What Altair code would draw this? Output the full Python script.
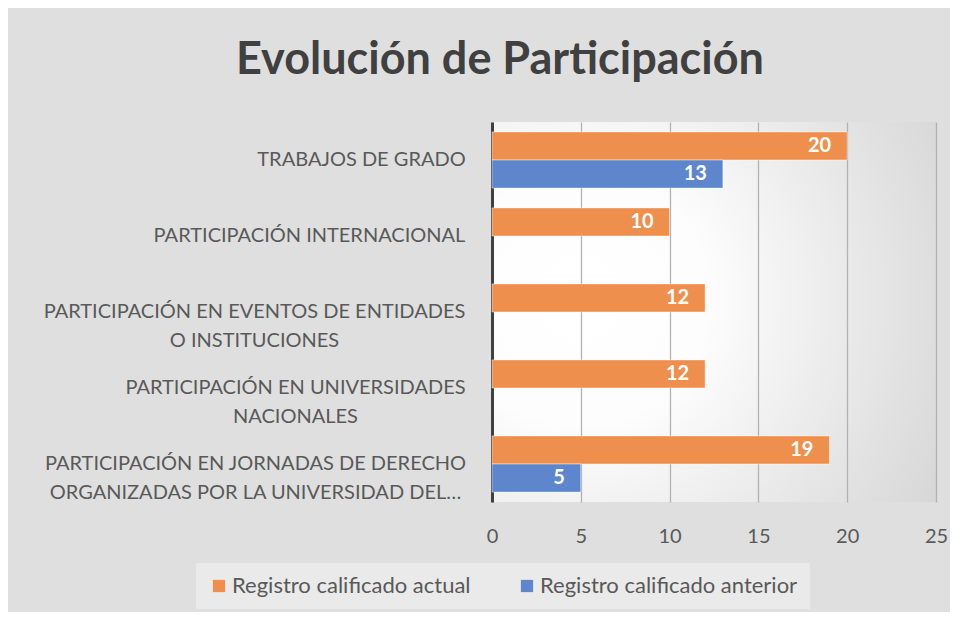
import altair as alt
import pandas as pd

# ---- data ----
categories = [
    "TRABAJOS DE GRADO",
    "PARTICIPACIÓN  INTERNACIONAL",
    "PARTICIPACIÓN EN EVENTOS DE ENTIDADES\nO INSTITUCIONES",
    "PARTICIPACIÓN EN UNIVERSIDADES\nNACIONALES",
    "PARTICIPACIÓN EN JORNADAS DE DERECHO\nORGANIZADAS POR LA UNIVERSIDAD DEL…",
]
series = ["Registro calificado actual", "Registro calificado anterior"]
actual = [20, 10, 12, 12, 19]
anterior = [13, None, None, None, 5]
colors = ["#EE8F4E", "#5D86CD"]
x_ticks = [0, 5, 10, 15, 20, 25]

rows = []
for cat, a, b in zip(categories, actual, anterior):
    if a is not None:
        rows.append({"categoria": cat, "serie": series[0], "valor": a})
    if b is not None:
        rows.append({"categoria": cat, "serie": series[1], "valor": b})
df = pd.DataFrame(rows)

FONT = "Lato"
GREY = "#595959"

# label blocks are right-aligned to the axis, with their lines centred:
# distance from the axis to the centre of each label block (layout only)
label_centre = [
    ("TRABAJOS", 131),
    ("INTERNACIONAL", 183),
    ("EVENTOS", 238),
    ("UNIVERSIDADES\n", 197),
    ("JORNADAS", 237),
]
pad_condition = [
    {"test": f"indexof(datum.value, '{key}') >= 0", "value": v}
    for key, v in label_centre
]
for c in pad_condition:
    c["test"] = c["test"].replace("\n", "\\n")

base = alt.Chart(df).encode(
    y=alt.Y(
        "categoria:N",
        sort=categories,
        scale=alt.Scale(paddingInner=0.26, paddingOuter=0.13),
        axis=alt.Axis(
            title=None,
            ticks=False,
            grid=False,
            domainColor="#404040",
            domainWidth=3,
            labelPadding={"condition": pad_condition, "value": 27},
            labelLimit=0,
            labelLineHeight=29,
            labelAlign="center",
            labelExpr="split(datum.label, '\\n')",
        ),
    ),
    yOffset=alt.YOffset("serie:N", sort=series, scale=alt.Scale(paddingInner=0, paddingOuter=0)),
    x=alt.X(
        "valor:Q",
        scale=alt.Scale(domain=[0, 25], nice=False),
        axis=alt.Axis(
            title=None,
            values=x_ticks,
            domain=False,
            ticks=False,
            grid=True,
            gridColor="#b2b2b2",
            gridWidth=1.3,
            labelPadding=24,
            labelFlush=False,
        ),
    ),
)

bars = base.mark_bar(stroke="white", strokeOpacity=0.45, strokeWidth=1).encode(
    color=alt.Color(
        "serie:N",
        sort=series,
        scale=alt.Scale(domain=series, range=colors),
        legend=alt.Legend(
            title=None,
            orient="none",
            direction="horizontal",
            legendX=-296,
            legendY=441,
            padding=12,
            fillColor="rgba(255,255,255,0.35)",
            symbolType="square",
            symbolSize=150,
            symbolStrokeWidth=0,
            labelFont=FONT,
            labelFontSize=22,
            labelColor=GREY,
            labelOffset=2,
            labelLimit=0,
            columnPadding=45,
        ),
    )
)

labels = base.mark_text(
    align="right",
    baseline="middle",
    dx=-16,
    color="white",
    font=FONT,
    fontSize=20,
    fontWeight="bold",
).encode(text="valor:Q")

grad = (
    "{gradient: 'radial', x1: 0.2, y1: 0.47, r1: 0, x2: 0.2, y2: 0.47, r2: 0.95, "
    "stops: [{offset: 0, color: '#ffffff'}, {offset: 0.3, color: '#fdfdfd'}, {offset: 1, color: '#d5d5d5'}]}"
)

chart = (
    alt.layer(bars, labels)
    .properties(
        width=444,
        height=380,
        title=alt.Title(
            "Evolución de Participación",
            font=FONT,
            fontSize=45,
            fontWeight="bold",
            color="#404040",
            anchor="middle",
            baseline="alphabetic",
            offset=3,
            dx=-214,
        ),
        view=alt.ViewBackground(fill={"expr": grad}, strokeWidth=0),
        autosize=alt.AutoSizeParams(type="none"),
        padding={"left": 484, "top": 114, "right": 14, "bottom": 110},
        background="#dfdfdf",
    )
    .configure_axis(labelFont=FONT, labelFontSize=20, labelColor=GREY)
)

chart.save("out.html", embed_options={"renderer": "svg", "actions": False})
